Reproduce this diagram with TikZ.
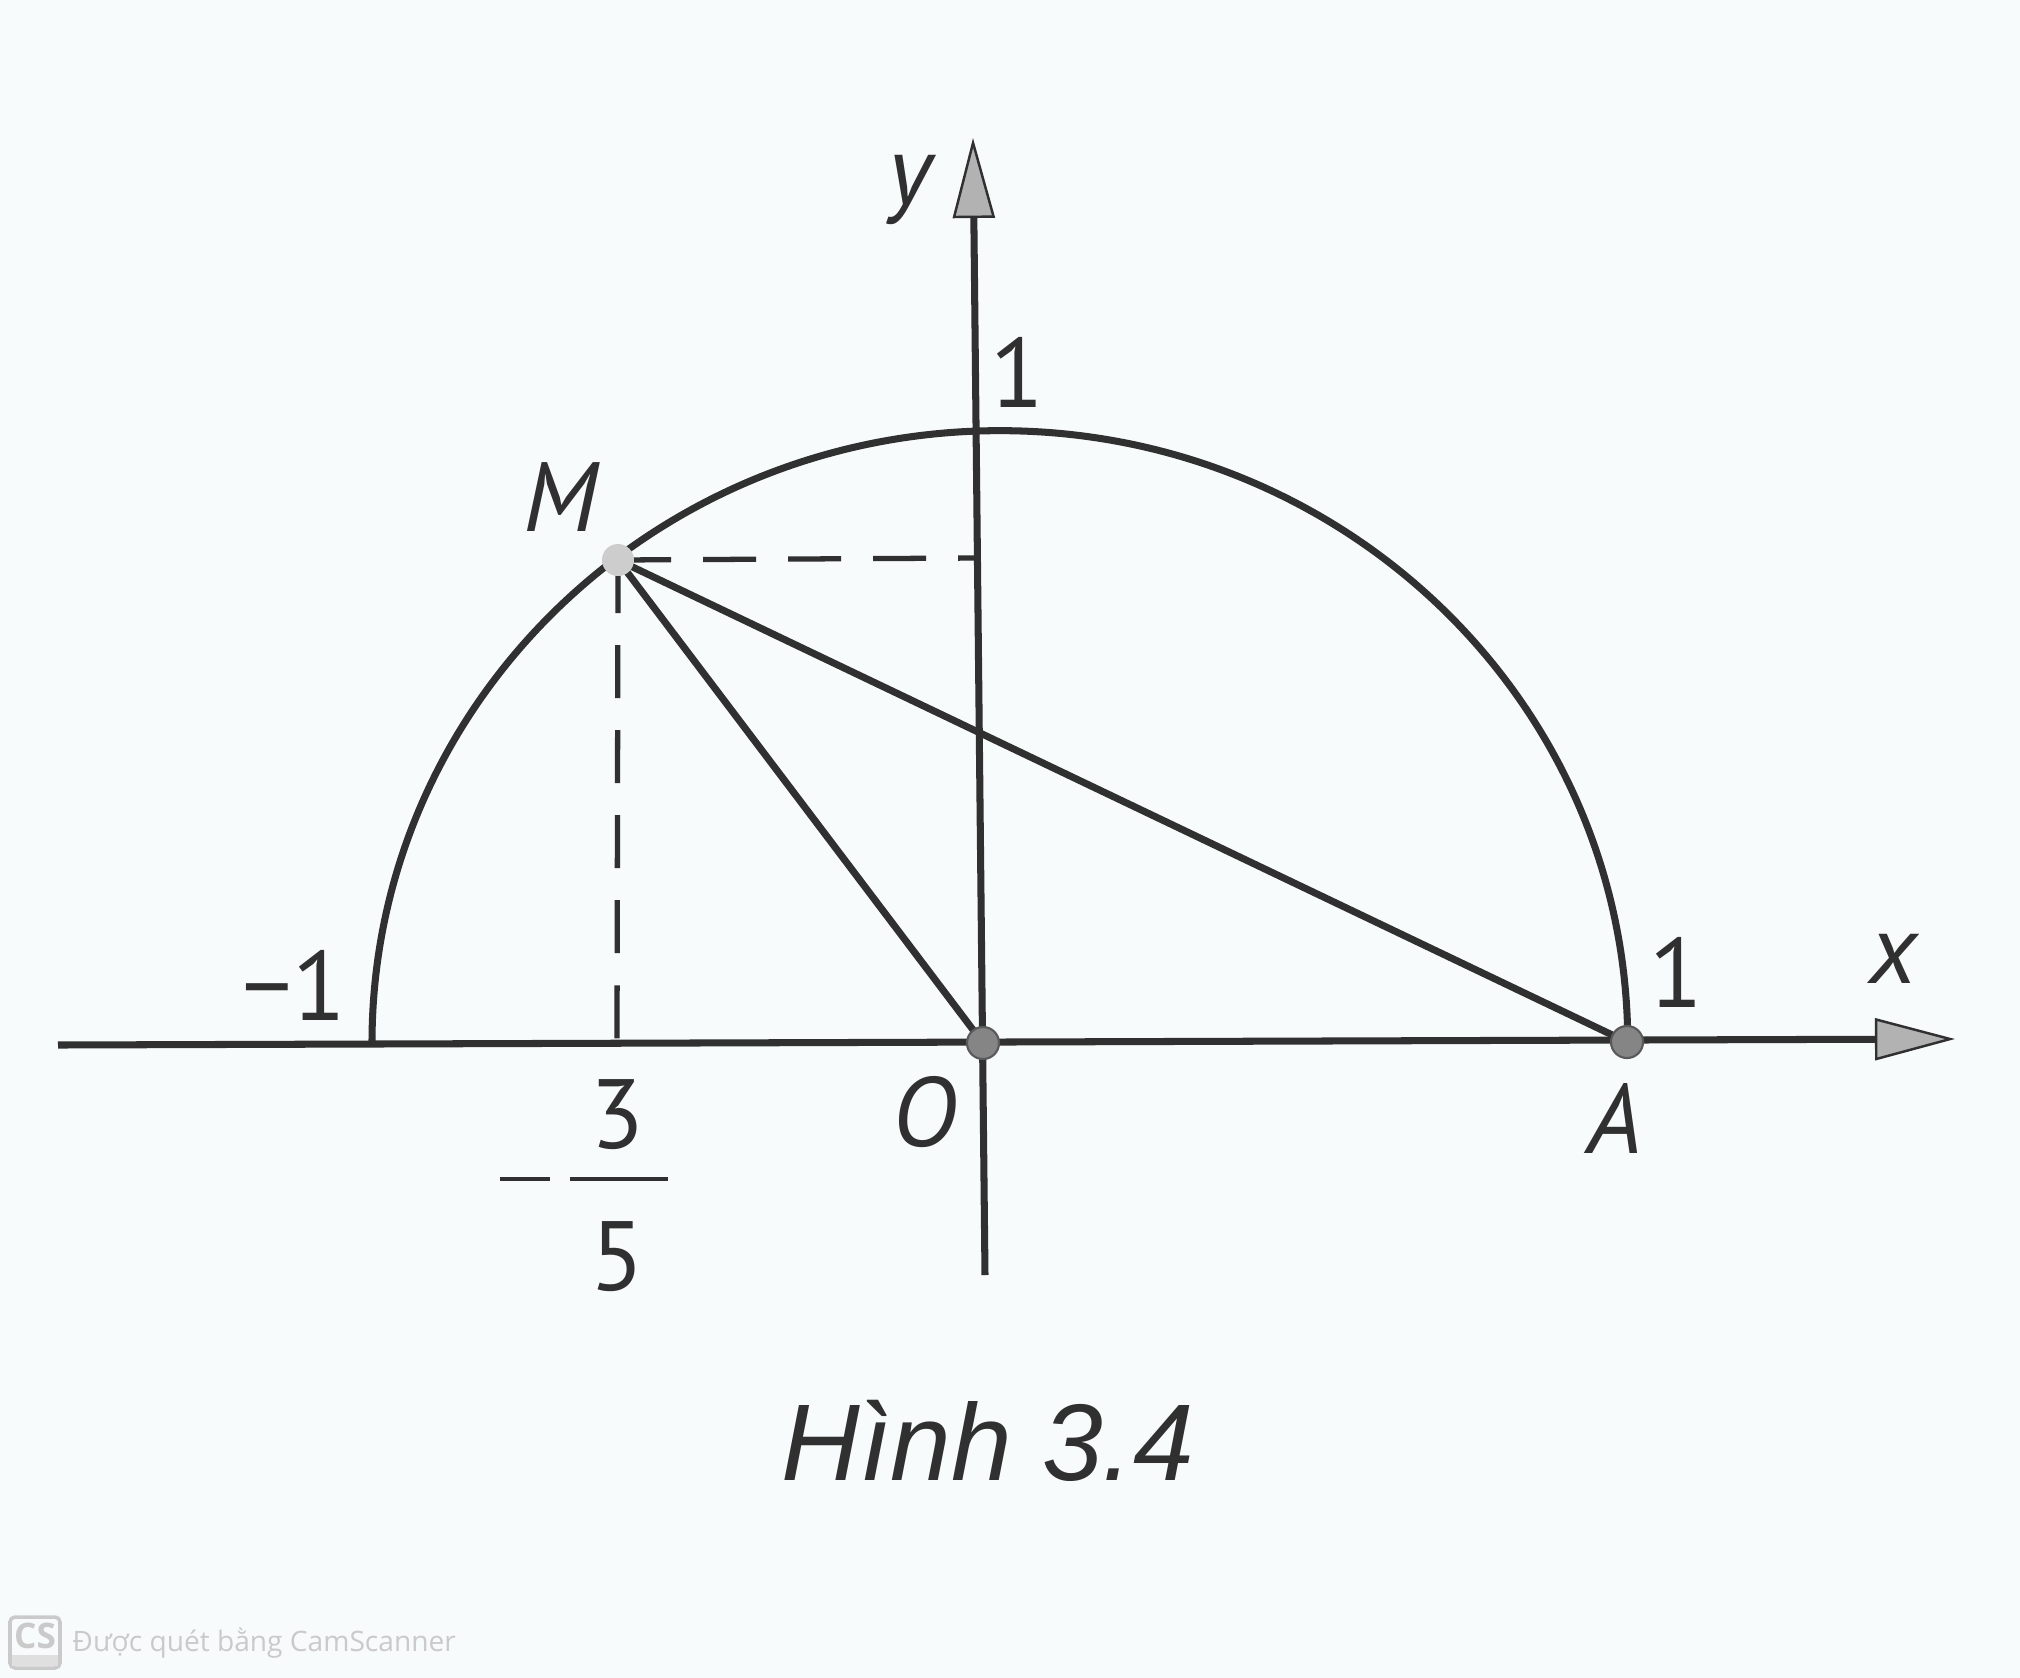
\documentclass[tikz,border=0pt]{standalone}
\usepackage{fontspec}
\setmainfont{PT Sans}
\newfontfamily\capfont{Liberation Sans}
\newfontfamily\wmfont{Open Sans}
\usetikzlibrary{arrows.meta}
\definecolor{ink}{HTML}{303030}
\definecolor{bg}{RGB}{248,251,251}
\definecolor{dotgray}{HTML}{858585}
\definecolor{mdot}{HTML}{CDCDCD}
\definecolor{wm}{HTML}{CACACA}
\tikzset{
  axis/.style={draw=ink, line width=2pt, -{Triangle[length=0.8cm,width=0.42cm,fill=gray!60,line width=0.7pt]}},
  curve/.style={draw=ink, line width=2pt},
  guide/.style={draw=ink, line width=1.5pt, dash pattern=on 0.53cm off 0.32cm},
  lbl/.style={inner sep=0pt, text=ink, font=\fontsize{28}{30}\selectfont},
  ilbl/.style={lbl, font=\fontsize{28}{30}\selectfont\itshape},
  ptdot/.style={fill=dotgray, draw=ink!80, line width=0.6pt},
}
\begin{document}
\begin{tikzpicture}[x=0.01cm,y=-0.01cm]
\fill[bg] (0,0) rectangle (2020,1678);
\useasboundingbox (0,0) rectangle (2020,1678);

\coordinate (O) at (983,1043);
\coordinate (A) at (1627,1042);
\coordinate (M) at (618,560);
\coordinate (L) at (372,1043);
\coordinate (xs) at (58,1045);
\coordinate (xe) at (1955,1039);
\coordinate (ys) at (985,1275);
\coordinate (ye) at (973,138);
\coordinate (My) at (978,558);
\coordinate (Mx) at (617,1043);

% dashed guides
\draw[guide] (M) -- (My);
\draw[guide] (M) -- (Mx);

% axes
\draw[axis] (xs) -- (xe);
\draw[axis] (ys) -- (ye);

% semicircle
\draw[curve] (L) arc[start angle=180, end angle=0, x radius=6.275cm, y radius=6.12cm];

% segments
\draw[curve] (M) -- (O);
\draw[curve] (M) -- (A);

% points
\fill[ptdot] (O) circle[radius=0.16cm];
\fill[ptdot] (A) circle[radius=0.16cm];
\fill[mdot] (M) circle[radius=0.16cm];

% labels
\node[ilbl] (lM) at (561,497) {M};
\node[ilbl] (ly) at (910,190) {y};
\node[lbl] (l1y) at (1017,372) {1};
\node[lbl] (lm1) at (294,985) {−1};
\node[lbl] (l1x) at (1676,972) {1};
\node[ilbl] (lx) at (1893,959) {x};
\node[ilbl] (lO) at (925,1112) {O};
\node[ilbl] (lA) at (1615,1118) {A};
\node[lbl] (l3) at (617,1115) {3};
\node[lbl] (l5) at (617,1257) {5};
\draw[ink, line width=1.3pt] (570,1179) -- (668,1179);
\draw[ink, line width=1.3pt] (500,1179) -- (550,1179);

% caption
\node[inner sep=0pt, text=ink, anchor=base, font=\capfont\fontsize{31}{34}\selectfont\itshape] (cap) at (988,1480) {Hình 3.4};

% watermark
\draw[wm, line width=1pt, rounded corners=0.05cm] (10,1617) rectangle (60,1668);
\fill[wm!60] (12,1655) rectangle (58,1666);
\node[inner sep=0pt, text=wm, font=\wmfont\bfseries\fontsize{10}{11}\selectfont] (cs) at (35,1636) {CS};
\node[inner sep=0pt, text=wm, anchor=west, font=\wmfont\fontsize{8}{10}\selectfont] (wmt) at (72,1643) {Được quét bằng CamScanner};
\end{tikzpicture}
\end{document}
